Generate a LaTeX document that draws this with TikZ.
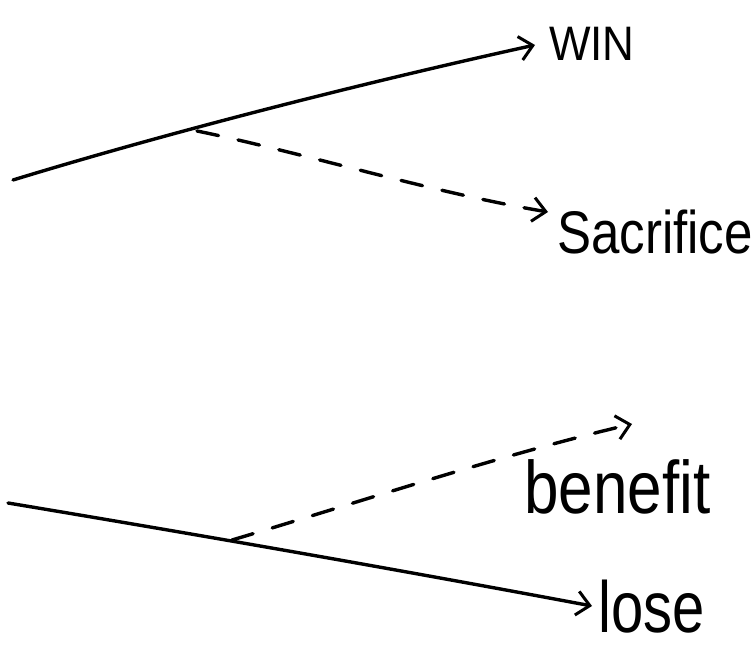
\documentclass[tikz,border=0pt]{standalone}
\usepackage{fontspec}
\setmainfont{Liberation Sans}
\usetikzlibrary{arrows.meta}
\tikzset{
  conn/.style={line width=3.4pt, line cap=round, -{Straight Barb[length=13pt,width=24pt,line width=3pt]}},
  dconn/.style={conn, dash pattern=on 22pt off 20pt},
  word/.style={anchor=west, inner sep=0pt, text=black}
}
\begin{document}
\begin{tikzpicture}[x=1pt,y=-1pt]
  \useasboundingbox (0,0) rectangle (755,647);
  % upper choice
  \coordinate (upStart) at (13,180);
  \coordinate (upBranch) at (197,131);
  \coordinate (winTip) at (535,45);
  \coordinate (sacTip) at (548,212);
  \node[word, font=\fontsize{44}{44}\selectfont] (win) at (549,44) {\scalebox{1}[1.1]{WIN}};
  \node[word, font=\fontsize{51}{51}\selectfont] (sac) at (557,232) {\scalebox{1}[1.18]{Sacrifice}};
  \draw[conn] (upStart) .. controls (150,138) and (340,88) .. (winTip);
  \draw[dconn] (upBranch) .. controls (300,152) and (430,192) .. (sacTip);
  % lower choice
  \coordinate (loStart) at (8,503);
  \coordinate (loBranch) at (232,540);
  \coordinate (loseTip) at (592,606);
  \coordinate (benTip) at (632,424);
  \node[word, font=\fontsize{62}{62}\selectfont] (ben) at (524,487) {\scalebox{1}[1.2]{benefit}};
  \node[word, font=\fontsize{58}{58}\selectfont] (lose) at (598,607) {\scalebox{1}[1.25]{lose}};
  \draw[conn] (loStart) .. controls (200,535) and (400,570) .. (loseTip);
  \draw[dconn] (loBranch) .. controls (350,505) and (500,455) .. (benTip);
\end{tikzpicture}
\end{document}
